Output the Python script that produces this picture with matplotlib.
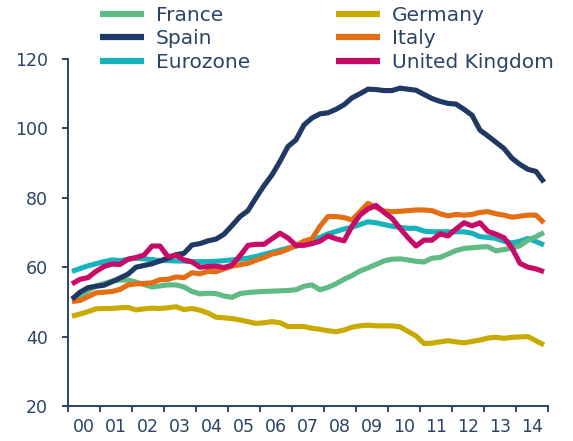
import numpy as np
import matplotlib
matplotlib.use("Agg")
import matplotlib.pyplot as plt
from matplotlib.ticker import FixedLocator, NullFormatter, FixedFormatter

# quarterly observations 2000Q1 .. 2014Q4
years = list(range(2000, 2015))
year_labels = ["00", "01", "02", "03", "04", "05", "06", "07", "08", "09",
               "10", "11", "12", "13", "14"]

france = [50.8, 51.8, 53.2, 54.6, 55.3, 56.0, 56.3, 56.3, 55.7, 55.0, 54.3, 54.6,
          54.9, 54.9, 54.3, 53.0, 52.3, 52.5, 52.4, 51.7, 51.3, 52.4, 52.7, 52.9,
          53.0, 53.1, 53.2, 53.3, 53.5, 54.5, 54.9, 53.5, 54.2, 55.2, 56.5, 57.6,
          58.9, 59.8, 60.8, 61.8, 62.3, 62.4, 62.1, 61.7, 61.5, 62.6, 62.8, 63.8,
          64.8, 65.4, 65.6, 65.8, 65.9, 64.7, 65.1, 65.5, 66.2, 67.8, 68.8, 70.0]
spain = [50.8, 52.8, 54.1, 54.5, 54.8, 55.8, 56.9, 58.0, 60.0, 60.5, 61.0, 61.8,
         62.6, 63.6, 64.0, 66.4, 66.8, 67.6, 68.1, 69.5, 72.0, 74.6, 76.3, 80.0,
         83.5, 86.6, 90.5, 94.8, 96.7, 101.0, 103.0, 104.2, 104.5, 105.5, 106.8, 108.8,
         110.0, 111.3, 111.2, 110.9, 110.9, 111.6, 111.3, 111.0, 109.8, 108.6, 107.8, 107.2,
         107.0, 105.5, 103.8, 99.5, 97.8, 96.0, 94.2, 91.4, 89.6, 88.2, 87.6, 84.5]
eurozone = [58.8, 59.6, 60.4, 61.0, 61.6, 62.1, 61.9, 62.3, 62.6, 62.4, 62.2, 61.9,
            61.9, 61.8, 61.8, 61.6, 61.6, 61.6, 61.7, 61.9, 62.1, 62.3, 62.6, 63.1,
            63.7, 64.3, 64.9, 65.5, 66.0, 67.0, 67.7, 68.6, 69.6, 70.3, 71.0, 71.5,
            72.3, 73.1, 72.8, 72.3, 71.8, 71.5, 71.2, 71.2, 70.4, 70.2, 70.2, 70.2,
            70.2, 70.2, 69.8, 68.8, 68.6, 68.3, 67.5, 67.0, 67.5, 68.3, 67.4, 66.4]
germany = [45.9, 46.5, 47.2, 48.0, 48.1, 48.1, 48.3, 48.4, 47.7, 48.0, 48.2, 48.1,
           48.3, 48.6, 47.8, 48.1, 47.6, 46.8, 45.6, 45.4, 45.2, 44.8, 44.3, 43.8,
           44.0, 44.3, 44.0, 42.9, 42.9, 42.9, 42.4, 42.1, 41.7, 41.4, 41.9, 42.7,
           43.1, 43.3, 43.1, 43.1, 43.1, 42.8, 41.5, 40.2, 38.0, 38.1, 38.5, 38.8,
           38.5, 38.2, 38.6, 39.0, 39.6, 39.8, 39.5, 39.8, 39.9, 40.0, 38.8, 37.6]
italy = [50.1, 50.4, 51.5, 52.6, 52.8, 53.0, 53.6, 54.9, 55.2, 55.3, 55.5, 56.4,
         56.5, 57.2, 57.0, 58.4, 58.1, 58.8, 58.7, 59.5, 60.3, 60.7, 61.1, 62.0,
         62.8, 63.8, 64.3, 65.2, 66.3, 67.5, 68.2, 71.8, 74.6, 74.6, 74.3, 73.6,
         76.0, 78.4, 77.2, 76.2, 76.0, 76.1, 76.3, 76.5, 76.5, 76.3, 75.4, 74.8,
         75.2, 75.0, 75.2, 75.8, 76.0, 75.4, 75.0, 74.4, 74.7, 75.0, 75.0, 72.8]
uk = [55.2, 56.5, 57.0, 58.8, 60.2, 60.9, 60.8, 62.3, 62.8, 63.5, 66.1, 66.1,
      63.0, 63.5, 62.1, 61.5, 60.0, 60.2, 60.3, 59.9, 60.6, 63.3, 66.3, 66.6,
      66.6, 68.2, 69.8, 68.4, 66.3, 66.3, 66.8, 67.5, 69.0, 68.2, 67.6, 71.8,
      75.0, 76.8, 77.8, 75.8, 74.1, 71.2, 68.5, 66.1, 67.8, 67.8, 69.6, 69.0,
      71.0, 72.8, 71.9, 72.8, 70.3, 69.5, 68.5, 65.5, 61.1, 60.0, 59.5, 58.7]

n = len(spain)
t = 2000.125 + np.arange(n) / 4.0

NAVY = "#2a4468"
colors = {
    "France": "#5fba84",
    "Spain": "#1f3864",
    "Eurozone": "#17b2ba",
    "Germany": "#c9aa00",
    "Italy": "#e36e14",
    "United Kingdom": "#c80a68",
}

plt.rcParams['font.family'] = ['DejaVu Sans']

fig = plt.figure(figsize=(5.73, 4.41), dpi=100)
ax = fig.add_axes([68 / 573, 1 - 406 / 441, (548 - 68) / 573, (406 - 59) / 441])

lw = 3.7
for name, data in [("Eurozone", eurozone), ("France", france), ("Germany", germany),
                   ("Italy", italy), ("Spain", spain), ("United Kingdom", uk)]:
    ax.plot(t, data, color=colors[name], lw=lw, solid_joinstyle="round",
            solid_capstyle="butt", label=name)

ax.set_xlim(2000, 2015)
ax.set_ylim(20, 120)
ax.set_yticks([20, 40, 60, 80, 100, 120])

ax.xaxis.set_major_locator(FixedLocator(list(range(2000, 2016))))
ax.xaxis.set_major_formatter(NullFormatter())
ax.xaxis.set_minor_locator(FixedLocator([y + 0.5 for y in years]))
ax.xaxis.set_minor_formatter(FixedFormatter(year_labels))

for s in ["top", "right"]:
    ax.spines[s].set_visible(False)
for s in ["left", "bottom"]:
    ax.spines[s].set_color(NAVY)
    ax.spines[s].set_linewidth(1.4)

ax.tick_params(axis="y", which="major", direction="out", length=4.5, width=1.4,
               color=NAVY, labelcolor=NAVY, labelsize=12.5, pad=10)
ax.tick_params(axis="x", which="major", direction="out", length=4.5, width=1.4,
               color=NAVY)
ax.tick_params(axis="x", which="minor", length=0, labelcolor=NAVY, labelsize=12.5, pad=9)

order = ["France", "Spain", "Eurozone", "Germany", "Italy", "United Kingdom"]
handles = []
for name in order:
    h, = ax.plot([], [], color=colors[name], lw=4.5, solid_capstyle="butt")
    handles.append(h)
leg = fig.legend(handles, order, loc="upper left",
                 bbox_to_anchor=(100 / 573, 1 - 6 / 441), ncol=2, frameon=False,
                 fontsize=14.5, handlelength=2.2, handletextpad=0.58,
                 columnspacing=4.25, labelspacing=0.22, borderpad=0, borderaxespad=0)
for txt in leg.get_texts():
    txt.set_color(NAVY)

fig.savefig("out.png", dpi=100)
